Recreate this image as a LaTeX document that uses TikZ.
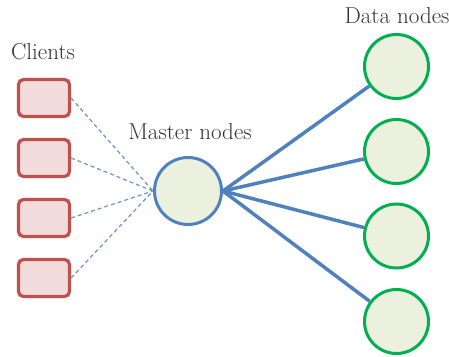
\documentclass[tikz,border=0pt]{standalone}
\usepackage{tikz}
\definecolor{cred}{HTML}{C0504D}
\definecolor{cpink}{HTML}{F2DCDB}
\definecolor{cblue}{HTML}{4F81BD}
\definecolor{cgreen}{HTML}{00B050}
\definecolor{cfill}{HTML}{EBF1DE}
\tikzset{
  client/.style={draw=cred, fill=cpink, line width=3.2pt, rounded corners=5pt, minimum width=51pt, minimum height=37pt, inner sep=0pt},
  master/.style={circle, draw=cblue, fill=cfill, line width=3pt, minimum size=67pt, inner sep=0pt},
  data/.style={circle, draw=cgreen, fill=cfill, line width=3pt, minimum size=64pt, inner sep=0pt},
  lbl/.style={font=\fontsize{23}{27}\selectfont, text=black!80, inner sep=0pt},
  dashlink/.style={draw=cblue!85, line width=1.2pt, dash pattern=on 4pt off 3pt},
  solidlink/.style={draw=cblue, line width=3.5pt}
}
\begin{document}
\begin{tikzpicture}[x=1pt,y=-1pt]
\useasboundingbox (0,0) rectangle (449,356);
\node[lbl] (tc) at (43,52) {Clients};
\node[lbl] (tm) at (190,132) {Master nodes};
\node[lbl] (td) at (397,16) {Data nodes};
\node[client] (c1) at (44,98) {};
\node[client] (c2) at (44,158) {};
\node[client] (c3) at (44,218) {};
\node[client] (c4) at (44,278) {};
\node[master] (m) at (188,191) {};
\node[data] (d1) at (396.5,66.5) {};
\node[data] (d2) at (396.5,151.5) {};
\node[data] (d3) at (396.5,236) {};
\node[data] (d4) at (396.5,321.5) {};
\foreach \i in {1,...,4}{
  \draw[dashlink] (c\i.east) -- (m.west);
  \draw[solidlink] (m.east) -- (d\i);
}
\end{tikzpicture}
\end{document}
